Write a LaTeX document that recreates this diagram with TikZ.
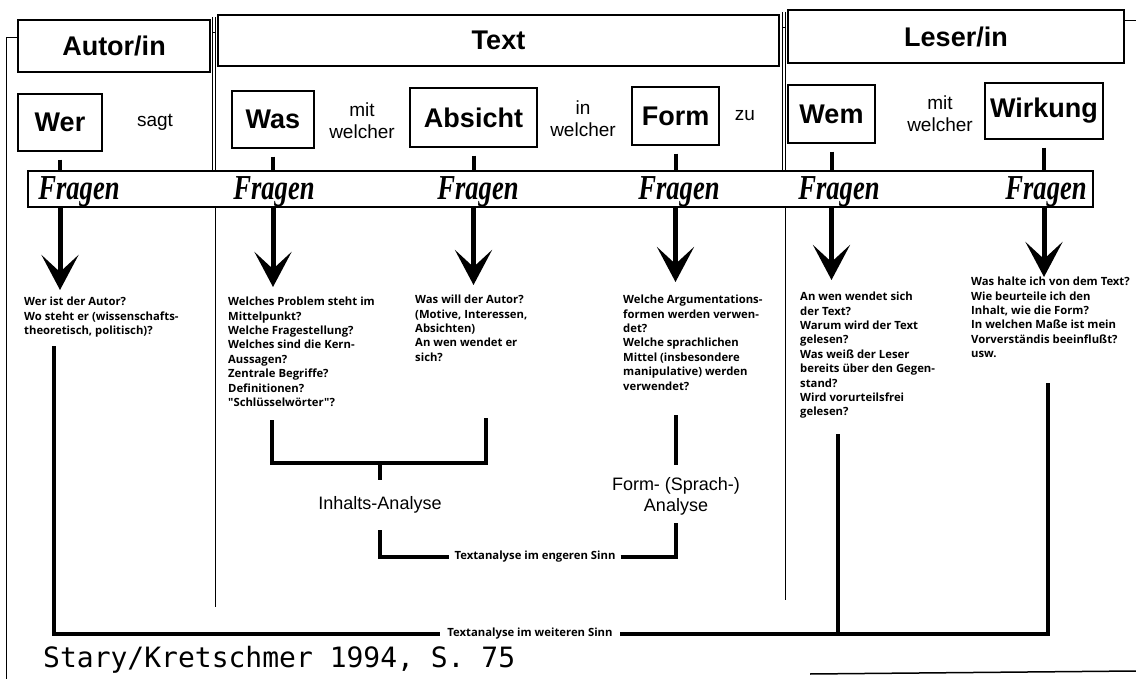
\documentclass[tikz,border=0pt]{standalone}
\usepackage{fontspec}
\setmainfont{Liberation Sans}
\newfontfamily\qfont{Open Sans}
\newfontfamily\fragenfont[FakeStretch=0.76]{Liberation Serif}
\newfontfamily\handfont{DejaVu Sans Mono}
\usetikzlibrary{arrows.meta,positioning}

\begin{document}
\begin{tikzpicture}[x=1pt, y=-1pt,
  head/.style={draw, line width=1.2pt, font=\bfseries\fontsize{27}{30}\selectfont},
  wordbox/.style={draw, line width=1.2pt, minimum height=57pt, font=\bfseries\fontsize{27}{30}\selectfont},
  link/.style={align=center, font=\fontsize{19}{22}\selectfont},
  fragen/.style={font=\fragenfont\bfseries\itshape\fontsize{35}{36}\selectfont},
  qtext/.style={anchor=north west, align=left, inner sep=0pt, font=\qfont\bfseries\fontsize{11.3}{14.4}\selectfont},
  analyse/.style={align=center, font=\fontsize{18}{21}\selectfont},
  sinn/.style={inner sep=5pt, font=\qfont\bfseries\fontsize{11.3}{13}\selectfont},
  stub/.style={line width=4pt, shorten <=8pt},
  bigarrow/.style={line width=5pt, -{Stealth[length=35pt, width=37pt, inset=17pt]}},
  bar/.style={line width=3.5pt},
  divider/.style={line width=1pt}]
\useasboundingbox (0,0) rectangle (1136,679);

% Kopfzeile
\node[head, minimum width=192pt, minimum height=52pt] (autor) at (114,46) {Autor/in};
\node[head, minimum width=561pt, minimum height=51pt] (text) at (498.5,40.5) {Text};
\node[head, minimum width=336pt, minimum height=53pt] (leser) at (956,36.5) {Leser/in};

% Rahmen
\draw[divider] (6,679) -- (6,38) -- (18,38);
\draw[divider] (212,17) -- (212,171);
\draw[divider] (215,17) -- (215,171);
\draw[divider] (212,33) -- (215,33);
\draw[divider] (215,207) -- (215,607);
\draw[divider] (782,12) -- (782,171);
\draw[divider] (785,12) -- (785,171);
\draw[divider] (782,28) -- (785,28);
\draw[divider] (785,207) -- (785,600);
\draw[divider] (leser.east |- 0,21) -- (1136,21);

% Satz
\node[wordbox, minimum width=84pt] (wer) at (60,122.5) {Wer};
\node[link] (sagt) at (155,122) {sagt};
\node[wordbox, minimum width=82pt] (was) at (273,119.5) {Was};
\node[link] (mitwelcher) at (362,121) {mit\\welcher};
\node[wordbox, minimum width=127pt, minimum height=59pt] (absicht) at (473.5,117.5) {Absicht};
\node[link] (inwelcher) at (583,119) {in\\welcher};
\node[wordbox, minimum width=87pt, minimum height=58pt] (form) at (675.5,116) {Form};
\node[link] (zu) at (745,116) {zu};
\node[wordbox, minimum width=87pt, minimum height=58pt] (wem) at (831.5,114) {Wem};
\node[link] (mitwelcherb) at (940,114) {mit\\welcher};
\node[wordbox, minimum width=118pt, minimum height=56pt] (wirkung) at (1044,111) {Wirkung};

% Fragen-Band
\node[draw, line width=1.2pt, minimum width=1065pt, minimum height=36pt] (band) at (560.5,189) {};
\foreach \x/\i in {79/1, 274/2, 478/3, 679/4, 839/5, 1046/6}
  \node[fragen] (fragen\i) at (\x,192) {Fragen};

\foreach \n in {wer, was, absicht, form, wem, wirkung}
  \draw[stub] (\n.south) -- (\n.south |- band.north);
\foreach \n/\t in {wer/290, was/287, absicht/285, form/282, wem/280, wirkung/277}
  \draw[bigarrow] (\n.south |- band.south) -- (\n.south |- 0,\t);

% Fragen
\node[qtext] (qwer) at (24,297) {Wer ist der Autor?\\Wo steht er (wissenschafts-\\theoretisch, politisch)?};
\node[qtext] (qwas) at (228,297) {Welches Problem steht im\\Mittelpunkt?\\Welche Fragestellung?\\Welches sind die Kern-\\Aussagen?\\Zentrale Begriffe?\\Definitionen?\\"Schlüsselwörter"?};
\node[qtext] (qabsicht) at (415,295) {Was will der Autor?\\(Motive, Interessen,\\Absichten)\\An wen wendet er\\sich?};
\node[qtext] (qform) at (623,295) {Welche Argumentations-\\formen werden verwen-\\det?\\Welche sprachlichen\\Mittel (insbesondere\\manipulative) werden\\verwendet?};
\node[qtext] (qwem) at (800,292) {An wen wendet sich\\der Text?\\Warum wird der Text\\gelesen?\\Was weiß der Leser\\bereits über den Gegen-\\stand?\\Wird vorurteilsfrei\\gelesen?};
\node[qtext] (qwirkung) at (971,277) {Was halte ich von dem Text?\\Wie beurteile ich den\\Inhalt, wie die Form?\\In welchen Maße ist mein\\Vorverständis beeinflußt?\\usw.};

% Analyse
\coordinate (werfoot) at (54,346);
\coordinate (wasfoot) at (272,420);
\coordinate (absfoot) at (486,418);
\coordinate (formfoot) at (676,415);
\coordinate (wemfoot) at (838,434);
\coordinate (wirkfoot) at (1048,383);
\node[analyse] (inhalt) at (380,505) {Inhalts-Analyse};
\node[analyse] (formana) at (676,496) {Form- (Sprach-)\\Analyse};
\node[sinn] (enger) at (535,557) {Textanalyse im engeren Sinn};
\node[sinn, inner sep=7pt] (weiter) at (530,634) {Textanalyse im weiteren Sinn};

\draw[bar] (wasfoot) -- (wasfoot |- 0,463) -- (absfoot |- 0,463) -- (absfoot);
\draw[bar] (inhalt.north |- 0,463) -- (inhalt.north |- 0,480);
\draw[bar] (inhalt.south |- 0,530) |- (enger.west);
\draw[bar] (formfoot) -- (formana.north |- 0,465);
\draw[bar] (enger.east) -| (formana.south |- 0,523);
\draw[bar] (werfoot) |- (weiter.west);
\draw[bar] (wirkfoot) |- (weiter.east);
\draw[bar] (wemfoot) -- (wemfoot |- weiter.east);

\node[anchor=west, inner sep=0pt, font=\handfont\fontsize{28}{30}\selectfont] (quelle) at (43,660) {Stary/Kretschmer 1994, S. 75};
\draw[line width=1.5pt] (810,674) -- (1136,671);
\end{tikzpicture}
\end{document}
